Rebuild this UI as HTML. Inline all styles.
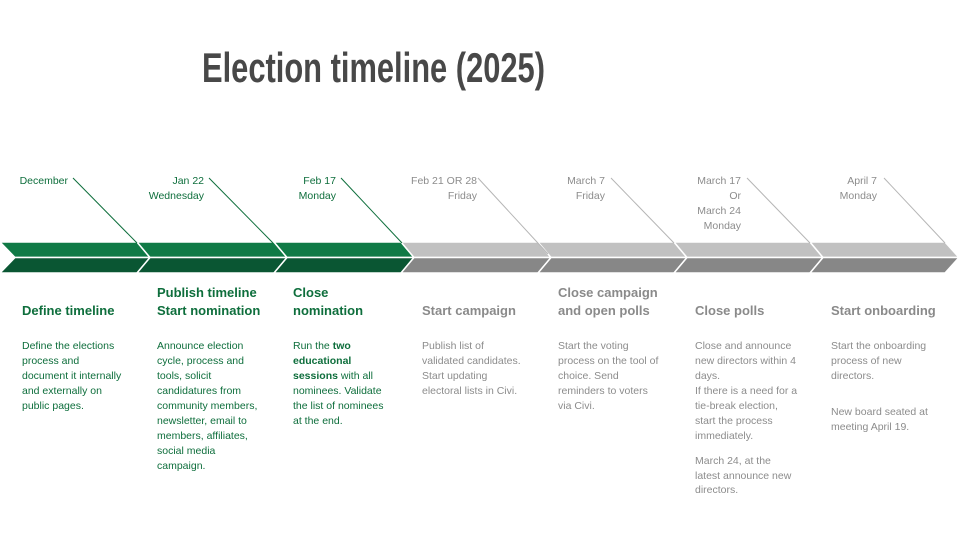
<!DOCTYPE html>
<html><head><meta charset="utf-8">
<style>
html,body{margin:0;padding:0;background:#fff;}
body{width:960px;height:540px;position:relative;overflow:hidden;font-family:"Liberation Sans",sans-serif;}
.t{position:absolute;white-space:nowrap;font-size:10.5px;line-height:15px;}
.g{color:#0e6e3c;}
.s{color:#8c8c8c;}
.d{text-align:right;}
.h{font-size:13px;font-weight:bold;line-height:18px;}
.gh{color:#0e6e3c;}
.sh{color:#8a8a8a;}
</style></head><body>
<svg width="960" height="540" style="position:absolute;left:0;top:0">
<text x="202" y="82" font-family="Liberation Sans" font-weight="bold" font-size="42" fill="#484848" textLength="343" lengthAdjust="spacingAndGlyphs">Election timeline (2025)</text>
<!-- top halves -->
<g stroke="#fff" stroke-width="1.5">
<polygon points="0,242 137,242 150,257.5 15,257.5" fill="#107a46"/>
<polygon points="0,273 137,273 150,257.5 15,257.5" fill="#0a5633"/>
<polygon points="137,242 274,242 287,257.5 150,257.5" fill="#107a46"/>
<polygon points="137,273 274,273 287,257.5 150,257.5" fill="#0a5633"/>
<polygon points="274,242 401,242 414,257.5 287,257.5" fill="#107a46"/>
<polygon points="274,273 401,273 414,257.5 287,257.5" fill="#0a5633"/>
<polygon points="401,242 538,242 551,257.5 414,257.5" fill="#c1c1c1"/>
<polygon points="401,273 538,273 551,257.5 414,257.5" fill="#878787"/>
<polygon points="538,242 674,242 687,257.5 551,257.5" fill="#c1c1c1"/>
<polygon points="538,273 674,273 687,257.5 551,257.5" fill="#878787"/>
<polygon points="674,242 810,242 823,257.5 687,257.5" fill="#c1c1c1"/>
<polygon points="674,273 810,273 823,257.5 687,257.5" fill="#878787"/>
<polygon points="810,242 945,242 959,257.5 823,257.5" fill="#c1c1c1"/>
<polygon points="810,273 945,273 959,257.5 823,257.5" fill="#878787"/>
</g>
<g stroke-width="1">
<line x1="73" y1="178" x2="137" y2="243" stroke="#0e6e3c"/>
<line x1="209" y1="178" x2="273" y2="243" stroke="#0e6e3c"/>
<line x1="341" y1="178" x2="402" y2="243" stroke="#0e6e3c"/>
<line x1="478" y1="178" x2="548" y2="254" stroke="#b5b5b5"/>
<line x1="611" y1="178" x2="674" y2="243" stroke="#b5b5b5"/>
<line x1="747" y1="178" x2="810" y2="243" stroke="#b5b5b5"/>
<line x1="884" y1="178" x2="945" y2="243" stroke="#b5b5b5"/>
</g>
</svg>

<div class="t g d" style="right:892px;top:174px">December</div>
<div class="t g d" style="right:756px;top:174px">Jan 22<br>Wednesday</div>
<div class="t g d" style="right:624px;top:174px">Feb 17<br>Monday</div>
<div class="t s d" style="right:483px;top:174px">Feb 21 OR 28<br>Friday</div>
<div class="t s d" style="right:355px;top:174px">March 7<br>Friday</div>
<div class="t s d" style="right:219px;top:174px">March 17<br>Or<br>March 24<br>Monday</div>
<div class="t s d" style="right:83px;top:174px">April 7<br>Monday</div>

<div class="t h gh" style="left:22px;top:302px">Define timeline</div>
<div class="t h gh" style="left:157px;top:284px">Publish timeline<br>Start nomination</div>
<div class="t h gh" style="left:293px;top:284px">Close<br>nomination</div>
<div class="t h sh" style="left:422px;top:302px">Start campaign</div>
<div class="t h sh" style="left:558px;top:284px">Close campaign<br>and open polls</div>
<div class="t h sh" style="left:695px;top:302px">Close polls</div>
<div class="t h sh" style="left:831px;top:302px">Start onboarding</div>

<div class="t g" style="left:22px;top:339px">Define the elections<br>process and<br>document it internally<br>and externally on<br>public pages.</div>
<div class="t g" style="left:157px;top:339px">Announce election<br>cycle, process and<br>tools, solicit<br>candidatures from<br>community members,<br>newsletter, email to<br>members, affiliates,<br>social media<br>campaign.</div>
<div class="t g" style="left:293px;top:339px">Run the <b>two</b><br><b>educational</b><br><b>sessions</b> with all<br>nominees. Validate<br>the list of nominees<br>at the end.</div>
<div class="t s" style="left:422px;top:339px">Publish list of<br>validated candidates.<br>Start updating<br>electoral lists in Civi.</div>
<div class="t s" style="left:558px;top:339px">Start the voting<br>process on the tool of<br>choice. Send<br>reminders to voters<br>via Civi.</div>
<div class="t s" style="left:695px;top:339px">Close and announce<br>new directors within 4<br>days.<br>If there is a need for a<br>tie-break election,<br>start the process<br>immediately.</div>
<div class="t s" style="left:695px;top:454px;line-height:14.5px">March 24, at the<br>latest announce new<br>directors.</div>
<div class="t s" style="left:831px;top:339px">Start the onboarding<br>process of new<br>directors.</div>
<div class="t s" style="left:831px;top:405px">New board seated at<br>meeting April 19.</div>
</body></html>
